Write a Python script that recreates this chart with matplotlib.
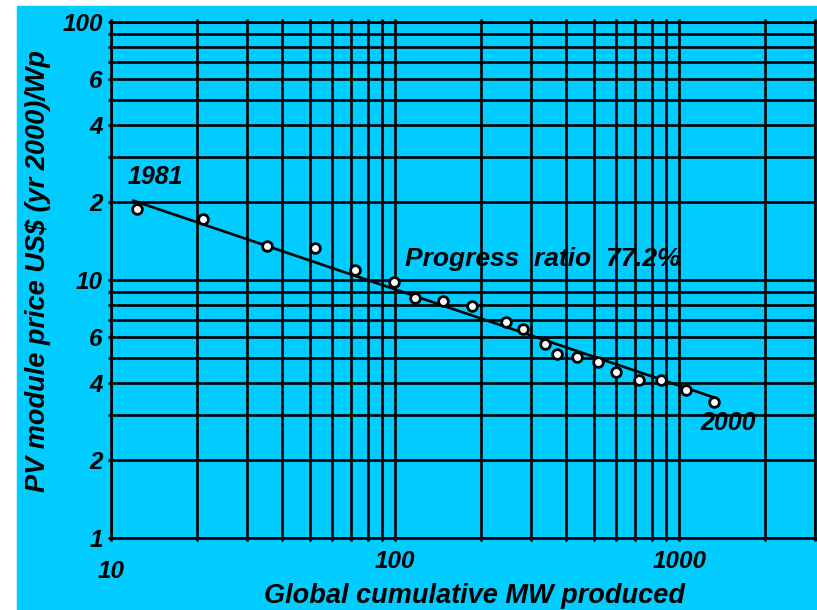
import numpy as np
import matplotlib
matplotlib.use("Agg")
import matplotlib.pyplot as plt
from matplotlib.patches import Rectangle
from matplotlib.ticker import FixedLocator, LogLocator, NullFormatter

plt.rcParams['font.family'] = ['Liberation Sans', 'DejaVu Sans']
plt.rcParams['font.weight'] = 'bold'
plt.rcParams['font.style'] = 'italic'
plt.rcParams['axes.labelweight'] = 'bold'

# cumulative production (MW) and module price (US$ 2000 / Wp), 1981-2000
years = list(range(1981, 2001))
cum_mw = [12.3, 21.0, 35.5, 52.1, 72.1, 99.0, 117.6, 147.6, 187.0, 244.5,
          281.7, 337.5, 371.8, 434.9, 517.0, 600.0, 723.0, 859.0, 1058.0, 1328.0]
price = [18.8, 17.2, 13.5, 13.3, 10.97, 9.82, 8.48, 8.26, 7.93, 6.90,
         6.47, 5.64, 5.15, 5.05, 4.81, 4.41, 4.10, 4.08, 3.76, 3.38]

progress_ratio = 0.772
fit_range = [12.0, 1328.0]

y_ticks = [1, 2, 4, 6, 10, 20, 40, 60, 100]
y_labels = ['1', '2', '4', '6', '10', '2', '4', '6', '100']
x_ticks = [10, 100, 1000]
x_labels = ['10', '100', '1000']

cyan = '#00CCFF'

fig = plt.figure(figsize=(8.17, 6.10), dpi=100, facecolor='white')
fig.patches.append(Rectangle((17 / 817, 0), 1 - 17 / 817, 1 - 6 / 610,
                             transform=fig.transFigure, color=cyan, zorder=-5))
ax = fig.add_axes([111 / 817, 1 - 538 / 610, 704 / 817, 516 / 610])
ax.set_facecolor(cyan)
ax.set_xscale('log')
ax.set_yscale('log')
ax.set_xlim(10, 3000)
ax.set_ylim(1, 100)

# experience curve with fixed slope, intercept from the data (log space)
b = np.log2(progress_ratio)
log_a = np.mean(np.log10(price) - b * np.log10(cum_mw))
xf = np.array(fit_range)
ax.plot(xf, 10 ** log_a * xf ** b, color='black', lw=1.9, zorder=3)
ax.plot(cum_mw, price, 'o', ms=7, mfc='white', mec='black', mew=2, zorder=4)

ax.yaxis.set_major_locator(FixedLocator(y_ticks))
ax.set_yticklabels(y_labels)
ax.yaxis.set_minor_locator(LogLocator(base=10, subs=np.arange(2, 10)))
ax.yaxis.set_minor_formatter(NullFormatter())
ax.xaxis.set_major_locator(FixedLocator(x_ticks))
ax.set_xticklabels(x_labels)
ax.xaxis.set_minor_locator(LogLocator(base=10, subs=np.arange(2, 10)))
ax.xaxis.set_minor_formatter(NullFormatter())

ax.grid(which='both', color='black', lw=1.9, zorder=1)
ax.set_axisbelow(True)
for s in ax.spines.values():
    s.set_linewidth(1.9)

ax.tick_params(axis='both', which='both', direction='out', length=2, width=1.9,
               labelsize=17.5, colors='black')
ax.tick_params(axis='x', which='both', top=True)
ax.tick_params(axis='x', pad=7)
ax.tick_params(axis='y', pad=4)
ax.xaxis.get_major_ticks()[0].set_pad(14)

ax.set_xlabel('Global cumulative MW produced', fontsize=19.5,
              fontweight='bold', va='center')
ax.xaxis.set_label_coords(0.517, -0.112)
ax.set_ylabel('PV module price US$ (yr 2000)/Wp', fontsize=19.5,
              fontweight='bold', va='center')
ax.yaxis.set_label_coords(-0.1037, 0.5165)

ax.annotate('1981', xy=(128 / 817, 1 - 184 / 610), xycoords='figure fraction',
            fontsize=18, ha='left', va='baseline')
ax.annotate('2000', xy=(700 / 817, 1 - 430 / 610), xycoords='figure fraction',
            fontsize=18, ha='left', va='baseline')
ax.annotate('Progress  ratio  77.2%', xy=(405 / 817, 1 - 266 / 610),
            xycoords='figure fraction', fontsize=19, ha='left', va='baseline')

fig.savefig('out.png', dpi=100, facecolor=fig.get_facecolor())
